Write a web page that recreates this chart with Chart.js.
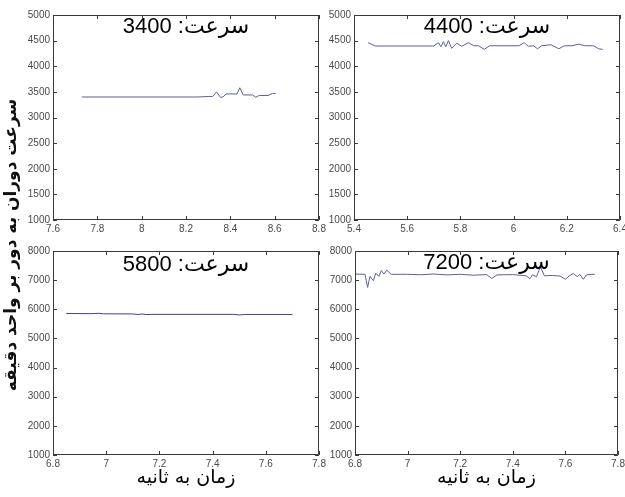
<!DOCTYPE html>
<html>
<head>
<meta charset="utf-8">
<script src="https://cdn.jsdelivr.net/npm/chart.js@4"></script>
<style>
  body { margin: 0; background: #fff; }
  #wrap { position: relative; width: 625px; height: 497px; overflow: hidden; background: #fff; }
  #wrap canvas { position: absolute; left: 0; top: 0; }
  #ylab {
    position: absolute; left: -148px; top: 233px; width: 320px; height: 24px;
    line-height: 24px; text-align: center; direction: rtl;
    transform: rotate(-90deg);
    font: bold 17px "DejaVu Sans", sans-serif; color: #111; white-space: nowrap;
  }
</style>
</head>
<body>
<div id="wrap">
  <canvas id="c1" width="625" height="497"></canvas>
  <canvas id="c2" width="625" height="497"></canvas>
  <canvas id="c3" width="625" height="497"></canvas>
  <canvas id="c4" width="625" height="497"></canvas>
  <div id="ylab">سرعت دوران به دور بر واحد دقیقه</div>
</div>
<script>
// nominal speeds shown in each panel title
const speeds = [3400, 4400, 5800, 7200];
const titleWord = 'سرعت';
const xTitle = 'زمان به ثانیه';

// measured speed traces (time in s, rpm)
const time3400 = [7.73, 8.25, 8.30, 8.32, 8.338, 8.356, 8.37, 8.38, 8.43, 8.443, 8.458, 8.50, 8.515, 8.53, 8.57, 8.59, 8.605];
const rpm3400  = [3400, 3400, 3410, 3410, 3500, 3390, 3410, 3460, 3460, 3580, 3440, 3440, 3395, 3430, 3430, 3470, 3470];

const time4400 = [5.453, 5.48, 5.70, 5.717, 5.727, 5.736, 5.745, 5.755, 5.767, 5.786, 5.805, 5.83, 5.85, 5.868, 5.89, 5.91, 6.02, 6.04, 6.055, 6.075, 6.09, 6.105, 6.14, 6.17, 6.19, 6.22, 6.245, 6.27, 6.30, 6.32, 6.335];
const rpm4400  = [4460, 4395, 4395, 4460, 4380, 4480, 4380, 4500, 4350, 4450, 4390, 4460, 4400, 4400, 4330, 4400, 4400, 4460, 4390, 4400, 4340, 4400, 4420, 4340, 4400, 4400, 4430, 4400, 4400, 4340, 4330];

const time5800 = [6.85, 6.95, 6.97, 6.99, 7.10, 7.12, 7.135, 7.15, 7.17, 7.48, 7.50, 7.52, 7.70];
const rpm5800  = [5855, 5850, 5862, 5845, 5840, 5822, 5838, 5818, 5825, 5825, 5805, 5822, 5822];

const time7200 = [6.80, 6.838, 6.848, 6.857, 6.87, 6.879, 6.891, 6.90, 6.91, 6.921, 6.938, 7.0, 7.05, 7.1, 7.15, 7.2, 7.25, 7.3, 7.32, 7.34, 7.4, 7.45, 7.465, 7.475, 7.49, 7.505, 7.52, 7.55, 7.58, 7.60, 7.615, 7.63, 7.645, 7.655, 7.668, 7.68, 7.70, 7.712];
const rpm7200  = [7210, 7200, 6750, 7130, 6980, 7240, 7130, 7330, 7210, 7340, 7200, 7200, 7185, 7210, 7180, 7200, 7170, 7190, 7060, 7180, 7190, 7150, 7050, 7180, 7120, 7460, 7150, 7160, 7140, 7030, 7150, 7230, 7120, 7200, 7030, 7180, 7200, 7200];

// tick values
const xTicks3400 = [7.6, 7.8, 8, 8.2, 8.4, 8.6, 8.8];
const xTicks4400 = [5.4, 5.6, 5.8, 6, 6.2, 6.4];
const xTicksLow  = [6.8, 7, 7.2, 7.4, 7.6, 7.8];
const yTicksTop  = [1000, 1500, 2000, 2500, 3000, 3500, 4000, 4500, 5000];
const yTicksLow  = [1000, 2000, 3000, 4000, 5000, 6000, 7000, 8000];

const W = 625, H = 497, Y_W = 30;
const font = '"Liberation Sans", "DejaVu Sans", sans-serif';

const speedTitle = {
  id: 'speedTitle',
  afterDatasetsDraw(chart, args, opts) {
    const { ctx, chartArea: a } = chart;
    ctx.save();
    ctx.direction = 'rtl';
    ctx.font = '22px ' + font;
    ctx.fillStyle = '#000';
    ctx.textAlign = 'center';
    ctx.textBaseline = 'middle';
    ctx.fillText(opts.text, (a.left + a.right) / 2, a.top + opts.dy);
    ctx.restore();
  }
};

// box around the plot with inward tick marks on all four sides
const matlabBox = {
  id: 'matlabBox',
  afterDraw(chart) {
    const { ctx, chartArea: a, scales: { x, y } } = chart;
    ctx.save();
    ctx.strokeStyle = '#3a3a3a';
    ctx.lineWidth = 1;
    ctx.beginPath();
    ctx.rect(a.left + 0.5, a.top + 0.5, a.width - 1, a.height - 1);
    x.ticks.forEach(t => {
      const px = Math.round(x.getPixelForValue(t.value)) + 0.5;
      ctx.moveTo(px, a.bottom); ctx.lineTo(px, a.bottom - 4);
      ctx.moveTo(px, a.top); ctx.lineTo(px, a.top + 4);
    });
    y.ticks.forEach(t => {
      const py = Math.round(y.getPixelForValue(t.value)) + 0.5;
      ctx.moveTo(a.left, py); ctx.lineTo(a.left + 4, py);
      ctx.moveTo(a.right, py); ctx.lineTo(a.right - 4, py);
    });
    ctx.stroke();
    ctx.restore();
  }
};

function panel(id, area, times, rpm, speed, xTicks, yTicks, withXTitle, color) {
  const xH = withXTitle ? 34 : 14;
  const data = times.map((t, i) => ({ x: t, y: rpm[i] }));
  return new Chart(document.getElementById(id), {
    type: 'line',
    data: { datasets: [{ data, borderColor: color, borderWidth: 1, pointRadius: 0, tension: 0, fill: false }] },
    options: {
      responsive: false,
      animation: false,
      events: [],
      layout: { padding: { left: area.left - Y_W, top: area.top, right: W - area.right, bottom: H - area.bottom - xH } },
      plugins: {
        legend: { display: false },
        tooltip: { enabled: false },
        speedTitle: { text: titleWord + ': ' + speed, dy: area.dy }
      },
      scales: {
        x: {
          type: 'linear',
          min: xTicks[0], max: xTicks[xTicks.length - 1],
          grid: { display: false, drawTicks: false },
          border: { display: false },
          afterBuildTicks: s => { s.ticks = xTicks.map(v => ({ value: v })); },
          afterFit: s => { s.height = xH; s.paddingLeft = 0; s.paddingRight = 0; },
          ticks: { padding: 3, color: '#4a4a4a', font: { family: font, size: 10 }, maxRotation: 0, autoSkip: false, callback: v => String(v) },
          title: { display: withXTitle, text: xTitle, color: '#000', padding: { top: 4, bottom: 0 }, font: { family: '"DejaVu Sans", sans-serif', size: 19 } }
        },
        y: {
          min: yTicks[0], max: yTicks[yTicks.length - 1],
          grid: { display: false, drawTicks: false },
          border: { display: false },
          afterBuildTicks: s => { s.ticks = yTicks.map(v => ({ value: v })); },
          afterFit: s => { s.width = Y_W; s.paddingTop = 0; s.paddingBottom = 0; },
          ticks: { padding: 3, color: '#4a4a4a', font: { family: font, size: 10 }, autoSkip: false, callback: v => String(v) }
        }
      }
    },
    plugins: [speedTitle, matlabBox]
  });
}

panel('c1', { left: 53, right: 319, top: 15, bottom: 220, dy: 12 }, time3400, rpm3400, speeds[0], xTicks3400, yTicksTop, false, '#5d6199');
panel('c2', { left: 354, right: 620, top: 15, bottom: 220, dy: 12 }, time4400, rpm4400, speeds[1], xTicks4400, yTicksTop, false, '#5d6199');
panel('c3', { left: 53, right: 319, top: 251, bottom: 455, dy: 14 }, time5800, rpm5800, speeds[2], xTicksLow, yTicksLow, true, '#3f4384');
panel('c4', { left: 355, right: 618, top: 251, bottom: 455, dy: 12 }, time7200, rpm7200, speeds[3], xTicksLow, yTicksLow, true, '#5d6199');
</script>
</body>
</html>
